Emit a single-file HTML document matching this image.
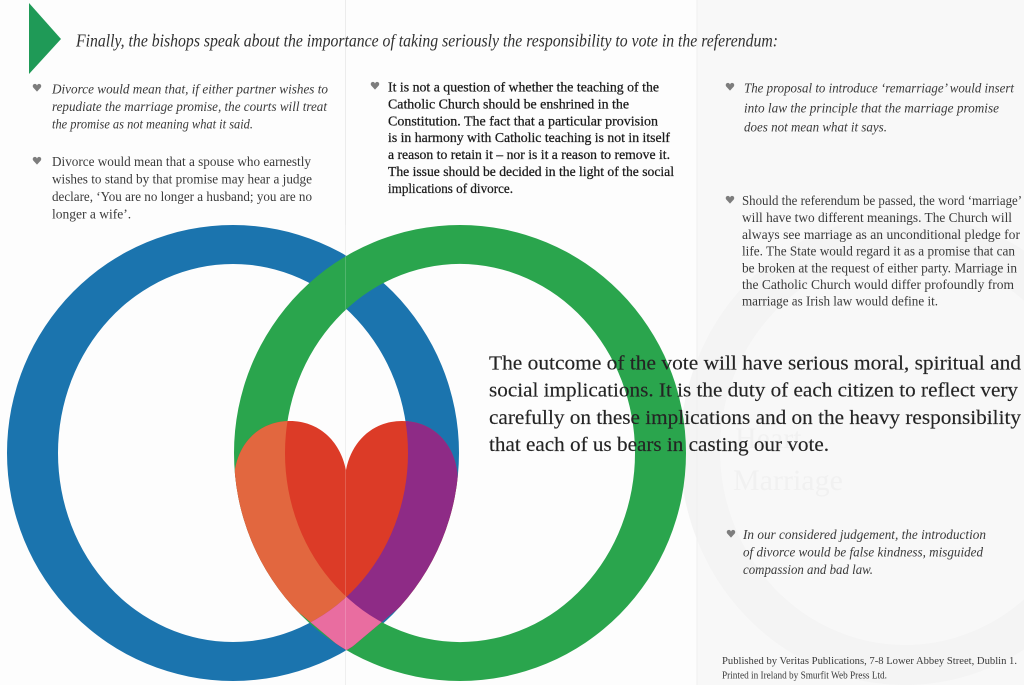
<!DOCTYPE html>
<html>
<head>
<meta charset="utf-8">
<style>
  html,body{margin:0;padding:0;background:#fdfdfd;}
  body{width:1024px;height:685px;overflow:hidden;}
  svg{display:block;}
  text{font-family:"Liberation Serif","DejaVu Serif",serif;}
  .it{font-style:italic;}
  .col{font-size:13.5px;fill:#3a3a3a;}
  .mid{font-size:13.5px;fill:#1a1a1a;stroke:#1a1a1a;stroke-width:0.25;}
  .big{font-size:20px;fill:#242424;stroke:#242424;stroke-width:0.15;}
  .pub{font-size:10.5px;fill:#3a3a3a;}
</style>
</head>
<body>
<svg width="1024" height="685" viewBox="0 0 1024 685" xmlns="http://www.w3.org/2000/svg">
  <defs>
    <path id="hb" d="M0,3.6 L-3.7,-0.4 C-5.1,-2.4 -3.6,-4.3 -1.8,-4.1 C-0.8,-4 -0.2,-3.1 0,-2.4 C0.2,-3.1 0.8,-4 1.8,-4.1 C3.6,-4.3 5.1,-2.4 3.7,-0.4 Z" fill="#7d7d7d"/>
    <clipPath id="heartClip">
      <path d="M346,470 C340,440 318,421 290,421 C256,421 234,448 234,482 C234,538 262,585 302,615 L346,652 L390,615 C430,585 458,538 458,482 C458,448 436,421 402,421 C374,421 352,440 346,470 Z"/>
    </clipPath>
    <clipPath id="greenOuter">
      <ellipse cx="460" cy="453" rx="226" ry="228"/>
    </clipPath>
    <clipPath id="blueOuter">
      <ellipse cx="233" cy="453" rx="226" ry="228"/>
    </clipPath>
    <clipPath id="greenClip">
      <path clip-rule="evenodd" d="M234,453 a226,228 0 1,0 452,0 a226,228 0 1,0 -452,0 Z M285,453 a175,189 0 1,0 350,0 a175,189 0 1,0 -350,0 Z"/>
    </clipPath>
  </defs>

  <!-- background paper -->
  <rect x="0" y="0" width="1024" height="685" fill="#fdfdfd"/>
  <rect x="697" y="0" width="327" height="685" fill="#f8f8f8"/>
  <ellipse cx="905" cy="450" rx="205" ry="215" fill="none" stroke="#f4f4f4" stroke-width="40"/>
  <text x="735" y="448" style="font-size:30px;fill:#f1f1f1;">Heart</text>
  <text x="733" y="490" style="font-size:30px;fill:#f1f1f1;">Marriage</text>
  <line x1="345.5" y1="0" x2="345.5" y2="685" stroke="#ececec" stroke-width="1"/>
  <line x1="697" y1="0" x2="697" y2="685" stroke="#f0f0f0" stroke-width="1"/>

  <!-- triangle -->
  <polygon points="29,3 29,74 61,39" fill="#1f9a57"/>

  <!-- title -->
  <text class="it" x="76" y="46.5" textLength="702" lengthAdjust="spacingAndGlyphs" style="font-size:17.5px;fill:#303030;">Finally, the bishops speak about the importance of taking seriously the responsibility to vote in the referendum:</text>

  <!-- left column -->
  <use href="#hb" x="37" y="88"/>
  <text class="col it" x="52" y="93.5" textLength="276" lengthAdjust="spacingAndGlyphs">Divorce would mean that, if either partner wishes to</text>
  <text class="col it" x="52" y="111" textLength="275" lengthAdjust="spacingAndGlyphs">repudiate the marriage promise, the courts will treat</text>
  <text class="col it" x="52" y="128.5" textLength="201" lengthAdjust="spacingAndGlyphs">the promise as not meaning what it said.</text>

  <use href="#hb" x="37" y="161"/>
  <text class="col" x="52" y="166" textLength="259" lengthAdjust="spacingAndGlyphs">Divorce would mean that a spouse who earnestly</text>
  <text class="col" x="52" y="183.5" textLength="260" lengthAdjust="spacingAndGlyphs">wishes to stand by that promise may hear a judge</text>
  <text class="col" x="52" y="201" textLength="260" lengthAdjust="spacingAndGlyphs">declare, ‘You are no longer a husband; you are no</text>
  <text class="col" x="52" y="218.5">longer a wife’.</text>

  <!-- middle column -->
  <use href="#hb" x="375" y="86"/>
  <text class="mid" x="388" y="91.5" textLength="271" lengthAdjust="spacingAndGlyphs">It is not a question of whether the teaching of the</text>
  <text class="mid" x="388" y="108.4" textLength="241" lengthAdjust="spacingAndGlyphs">Catholic Church should be enshrined in the</text>
  <text class="mid" x="388" y="125.3" textLength="270" lengthAdjust="spacingAndGlyphs">Constitution. The fact that a particular provision</text>
  <text class="mid" x="388" y="142.2" textLength="282" lengthAdjust="spacingAndGlyphs">is in harmony with Catholic teaching is not in itself</text>
  <text class="mid" x="388" y="159.1" textLength="282" lengthAdjust="spacingAndGlyphs">a reason to retain it – nor is it a reason to remove it.</text>
  <text class="mid" x="388" y="176" textLength="286" lengthAdjust="spacingAndGlyphs">The issue should be decided in the light of the social</text>
  <text class="mid" x="388" y="192.9" textLength="125" lengthAdjust="spacingAndGlyphs">implications of divorce.</text>

  <!-- right column -->
  <use href="#hb" x="730" y="87"/>
  <text class="col it" x="744" y="92.5" textLength="270" lengthAdjust="spacingAndGlyphs">The proposal to introduce ‘remarriage’ would insert</text>
  <text class="col it" x="744" y="112.5" textLength="255" lengthAdjust="spacingAndGlyphs">into law the principle that the marriage promise</text>
  <text class="col it" x="744" y="131.5" textLength="143" lengthAdjust="spacingAndGlyphs">does not mean what it says.</text>

  <use href="#hb" x="730" y="200"/>
  <text class="col" x="742" y="205" textLength="280" lengthAdjust="spacingAndGlyphs">Should the referendum be passed, the word ‘marriage’</text>
  <text class="col" x="742" y="222" textLength="270" lengthAdjust="spacingAndGlyphs">will have two different meanings. The Church will</text>
  <text class="col" x="742" y="239" textLength="278" lengthAdjust="spacingAndGlyphs">always see marriage as an unconditional pledge for</text>
  <text class="col" x="742" y="255.7" textLength="273" lengthAdjust="spacingAndGlyphs">life. The State would regard it as a promise that can</text>
  <text class="col" x="742" y="272.3" textLength="275" lengthAdjust="spacingAndGlyphs">be broken at the request of either party. Marriage in</text>
  <text class="col" x="742" y="289" textLength="272" lengthAdjust="spacingAndGlyphs">the Catholic Church would differ profoundly from</text>
  <text class="col" x="742" y="305.7" textLength="196" lengthAdjust="spacingAndGlyphs">marriage as Irish law would define it.</text>

  <!-- rings -->
  <path fill="#1b74ae" fill-rule="evenodd" d="M7,453 a226,228 0 1,0 452,0 a226,228 0 1,0 -452,0 Z M58,453 a175,189 0 1,0 350,0 a175,189 0 1,0 -350,0 Z"/>
  <path fill="#2aa54d" fill-rule="evenodd" d="M234,453 a226,228 0 1,0 452,0 a226,228 0 1,0 -452,0 Z M285,453 a175,189 0 1,0 350,0 a175,189 0 1,0 -350,0 Z"/>

  <!-- heart with overlaps -->
  <g clip-path="url(#heartClip)">
    <g clip-path="url(#greenOuter)">
      <g clip-path="url(#blueOuter)">
        <rect x="220" y="400" width="260" height="260" fill="#dc3b27"/>
        <path fill="#e2673f" fill-rule="evenodd" d="M234,453 a226,228 0 1,0 452,0 a226,228 0 1,0 -452,0 Z M285,453 a175,189 0 1,0 350,0 a175,189 0 1,0 -350,0 Z"/>
        <path fill="#8e2b86" fill-rule="evenodd" d="M7,453 a226,228 0 1,0 452,0 a226,228 0 1,0 -452,0 Z M58,453 a175,189 0 1,0 350,0 a175,189 0 1,0 -350,0 Z"/>
        <g clip-path="url(#greenClip)">
          <path fill="#e96da0" fill-rule="evenodd" d="M7,453 a226,228 0 1,0 452,0 a226,228 0 1,0 -452,0 Z M58,453 a175,189 0 1,0 350,0 a175,189 0 1,0 -350,0 Z"/>
        </g>
      </g>
    </g>
  </g>
  <line x1="345.5" y1="225" x2="345.5" y2="685" stroke="#ffffff" stroke-opacity="0.18" stroke-width="1"/>

  <!-- big statement -->
  <text class="big" x="489" y="369.3" textLength="532" lengthAdjust="spacingAndGlyphs">The outcome of the vote will have serious moral, spiritual and</text>
  <text class="big" x="489" y="396.7" textLength="529" lengthAdjust="spacingAndGlyphs">social implications. It is the duty of each citizen to reflect very</text>
  <text class="big" x="489" y="424" textLength="532" lengthAdjust="spacingAndGlyphs">carefully on these implications and on the heavy responsibility</text>
  <text class="big" x="489" y="451" textLength="340" lengthAdjust="spacingAndGlyphs">that each of us bears in casting our vote.</text>

  <!-- bottom right -->
  <use href="#hb" x="731" y="534"/>
  <text class="col it" x="743" y="539" textLength="243" lengthAdjust="spacingAndGlyphs">In our considered judgement, the introduction</text>
  <text class="col it" x="743" y="556.5" textLength="240" lengthAdjust="spacingAndGlyphs">of divorce would be false kindness, misguided</text>
  <text class="col it" x="743" y="574" textLength="130" lengthAdjust="spacingAndGlyphs">compassion and bad law.</text>

  <text class="pub" x="722" y="664" textLength="295" lengthAdjust="spacingAndGlyphs">Published by Veritas Publications, 7-8 Lower Abbey Street, Dublin 1.</text>
  <text class="pub" x="722" y="678.3" textLength="165" lengthAdjust="spacingAndGlyphs">Printed in Ireland by Smurfit Web Press Ltd.</text>
</svg>
</body>
</html>
